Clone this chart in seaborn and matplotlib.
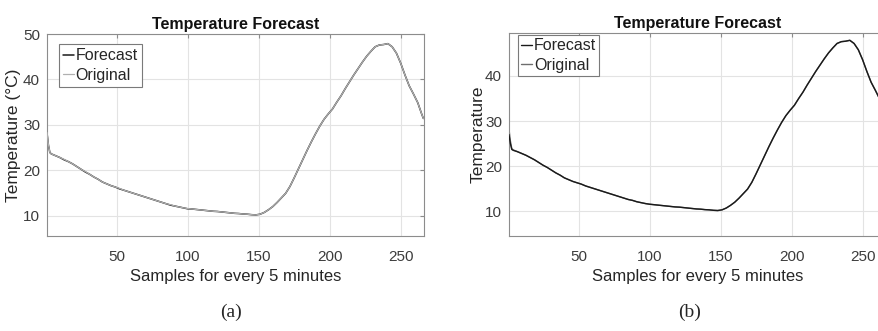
import numpy as np
import pandas as pd
import matplotlib
import matplotlib.pyplot as plt
import seaborn as sns

matplotlib.use("Agg")

# sample index (every 5 minutes)
samples = [1, 2, 3, 4, 7, 10, 13, 16, 19, 22, 25, 28, 31, 34, 37, 40, 43, 46, 49,
           52, 55, 58, 61, 64, 67, 70, 73, 76, 79, 82, 85, 88, 91, 94, 97, 100,
           103, 106, 109, 112, 115, 118, 121, 124, 127, 130, 133, 136, 139, 142,
           145, 148, 151, 154, 157, 160, 163, 166, 169, 172, 175, 178, 181, 184,
           187, 190, 193, 196, 199, 202, 205, 208, 211, 214, 217, 220, 223, 226,
           229, 232, 235, 238, 241, 244, 247, 250, 253, 256, 259, 262, 265, 266]

original = [28.3, 25.6, 23.9, 23.6, 23.2, 22.8, 22.4, 21.9, 21.4, 20.8, 20.2, 19.7,
            19.1, 18.5, 18.0, 17.4, 17.0, 16.6, 16.3, 16.0, 15.6, 15.3, 15.0, 14.7,
            14.4, 14.1, 13.8, 13.5, 13.2, 12.9, 12.6, 12.4, 12.1, 11.9, 11.7, 11.55,
            11.45, 11.35, 11.25, 11.15, 11.05, 10.95, 10.9, 10.8, 10.7, 10.6, 10.5,
            10.45, 10.35, 10.3, 10.2, 10.15, 10.3, 10.7, 11.3, 12.0, 12.9, 13.9,
            14.9, 16.4, 18.3, 20.3, 22.3, 24.3, 26.2, 28.0, 29.7, 31.2, 32.4, 33.5,
            35.0, 36.4, 38.0, 39.5, 41.0, 42.4, 43.8, 45.1, 46.2, 47.2, 47.6, 47.7,
            47.9, 47.2, 45.8, 43.6, 41.0, 38.6, 36.8, 34.9, 32.2, 31.4]

forecast_a = [28.2, 25.5, 23.9, 23.6, 23.2, 22.8, 22.3, 21.9, 21.4, 20.8, 20.2, 19.6,
              19.1, 18.5, 18.0, 17.4, 17.0, 16.6, 16.3, 15.9, 15.6, 15.3, 15.0, 14.7,
              14.4, 14.1, 13.8, 13.5, 13.2, 12.9, 12.6, 12.3, 12.1, 11.9, 11.7, 11.5,
              11.45, 11.35, 11.25, 11.15, 11.05, 10.95, 10.9, 10.8, 10.7, 10.6, 10.5,
              10.45, 10.35, 10.3, 10.2, 10.15, 10.3, 10.7, 11.3, 12.0, 12.9, 13.9,
              14.9, 16.4, 18.3, 20.3, 22.3, 24.3, 26.2, 28.0, 29.7, 31.2, 32.4, 33.5,
              35.0, 36.4, 38.0, 39.5, 41.0, 42.4, 43.8, 45.1, 46.2, 47.2, 47.6, 47.7,
              47.9, 47.2, 45.8, 43.6, 41.0, 38.6, 36.8, 34.9, 32.2, 31.4]

forecast_b = [27.0, 25.0, 23.7, 23.5, 23.2, 22.8, 22.4, 21.9, 21.4, 20.8, 20.2, 19.7,
              19.1, 18.5, 18.0, 17.4, 17.0, 16.6, 16.3, 16.0, 15.6, 15.3, 15.0, 14.7,
              14.4, 14.1, 13.8, 13.5, 13.2, 12.9, 12.6, 12.4, 12.1, 11.9, 11.7, 11.55,
              11.45, 11.35, 11.25, 11.15, 11.05, 10.95, 10.9, 10.8, 10.7, 10.6, 10.5,
              10.45, 10.35, 10.3, 10.2, 10.15, 10.3, 10.7, 11.3, 12.0, 12.9, 13.9,
              14.9, 16.4, 18.3, 20.3, 22.3, 24.3, 26.2, 28.0, 29.7, 31.2, 32.4, 33.5,
              35.0, 36.4, 38.0, 39.5, 41.0, 42.4, 43.8, 45.1, 46.2, 47.2, 47.6, 47.7,
              47.9, 47.2, 45.8, 43.6, 41.0, 38.6, 36.8, 34.9, 32.2, 31.4]

x_ticks = [50, 100, 150, 200, 250]
y_ticks_a = [10, 20, 30, 40, 50]
y_ticks_b = [10, 20, 30, 40]

sns.set_style("white")
plt.rcParams["font.family"] = ["Liberation Sans", "DejaVu Sans"]

df_a = pd.DataFrame({"x": samples * 2,
                     "y": forecast_a + original,
                     "series": ["Forecast"] * len(samples) + ["Original"] * len(samples)})
df_b = pd.DataFrame({"x": samples * 2,
                     "y": forecast_b + original,
                     "series": ["Forecast"] * len(samples) + ["Original"] * len(samples)})

fig = plt.figure(figsize=(8.79, 3.31), dpi=100)
ax_a = fig.add_axes([0.0535, 0.287, 0.429, 0.610])
ax_b = fig.add_axes([0.579, 0.287, 0.429, 0.613])

palette = {"Forecast": "#1a1a1a", "Original": "#b0b0b0"}
text_c = "#262626"
tick_c = "#3c3c3c"
spine_c = "#8c8c8c"


def style_axes(ax, ylim, yticks, ylabel, title, ylabel_x):
    ax.set_xlim(1, 266.5)
    ax.set_ylim(*ylim)
    ax.set_xticks(x_ticks)
    ax.set_yticks(yticks)
    ax.grid(True, color="#e3e3e3", linewidth=0.8)
    ax.set_axisbelow(True)
    for s in ax.spines.values():
        s.set_color(spine_c)
        s.set_linewidth(0.8)
    ax.tick_params(direction="in", length=3, color=spine_c, labelsize=11,
                   labelcolor=tick_c, pad=5, top=True, right=True)
    ax.tick_params(axis="x", pad=10)
    ax.set_xlabel("Samples for every 5 minutes", fontsize=12, color=text_c, labelpad=4)
    ax.set_ylabel(ylabel, fontsize=12.5, color=text_c)
    ax.yaxis.set_label_coords(ylabel_x, 0.5)
    ax.set_title(title, fontsize=11.5, fontweight="bold", color="#111111", pad=4)


# --- (a) ---
sns.lineplot(data=df_a[df_a.series == "Forecast"], x="x", y="y", color=palette["Forecast"],
             linewidth=1.1, label="Forecast", ax=ax_a, zorder=2)
sns.lineplot(data=df_a[df_a.series == "Original"], x="x", y="y", color=palette["Original"],
             linewidth=0.9, label="Original", ax=ax_a, zorder=3)
style_axes(ax_a, (5.5, 50), y_ticks_a, "Temperature (°C)", "Temperature Forecast", -0.068)
leg = ax_a.legend(loc="upper left", bbox_to_anchor=(0.01, 0.99), fontsize=11.5,
                  handlelength=0.7, handletextpad=0.1, borderpad=0.25,
                  labelspacing=0.3, fancybox=False, framealpha=1)
leg.get_frame().set_edgecolor("#7a7a7a")
leg.get_frame().set_linewidth(0.8)

# --- (b) ---
sns.lineplot(data=df_b[df_b.series == "Original"], x="x", y="y", color="#6e6e6e",
             linewidth=1.0, ax=ax_b, zorder=2, legend=False)
sns.lineplot(data=df_b[df_b.series == "Forecast"], x="x", y="y", color=palette["Forecast"],
             linewidth=1.0, ax=ax_b, zorder=3, legend=False)
style_axes(ax_b, (4.5, 49.5), y_ticks_b, "Temperature", "Temperature Forecast", -0.062)
hf = matplotlib.lines.Line2D([], [], color=palette["Forecast"], linewidth=1.0)
ho = matplotlib.lines.Line2D([], [], color="#6e6e6e", linewidth=1.0)
leg_b = ax_b.legend([hf, ho], ["Forecast", "Original"], loc="upper left",
                    bbox_to_anchor=(0.003, 1.03), fontsize=11.5,
                    handlelength=0.7, handletextpad=0.1, borderpad=0.2,
                    labelspacing=0.3, fancybox=False, framealpha=1)
leg_b.get_frame().set_edgecolor("#7a7a7a")
leg_b.get_frame().set_linewidth(0.8)

fig.text(0.263, 0.057, "(a)", fontsize=14, family=["Liberation Serif"], ha="center", va="center")
fig.text(0.785, 0.057, "(b)", fontsize=14, family=["Liberation Serif"], ha="center", va="center")

fig.savefig("out.png", dpi=100)
